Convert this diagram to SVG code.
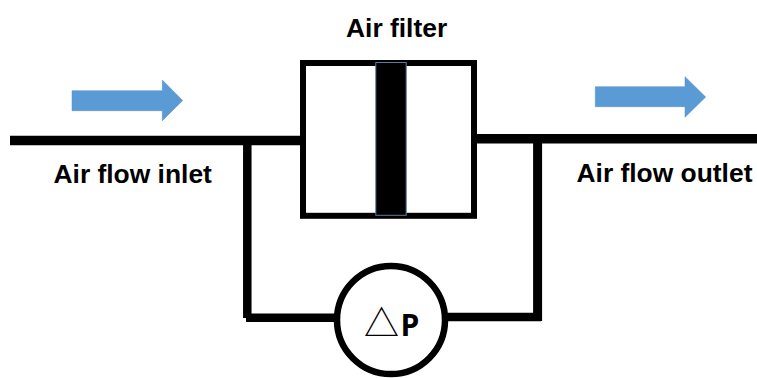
<svg xmlns="http://www.w3.org/2000/svg" width="757" height="378" viewBox="0 0 757 378">
<style>
.pipe{fill:none;stroke:#000;stroke-linecap:butt;stroke-linejoin:miter}
.lbl{font-family:"Liberation Sans",Arial,sans-serif;font-weight:700;font-size:26.4px;fill:#000}
.flow{fill:#5b9bd5;stroke:#4f8fc8;stroke-width:.5}
</style>
<rect width="757" height="378" fill="#fff"/>
<g id="connectors">
<path class="pipe" stroke-width="9.5" d="M10 140.5H300"/>
<path class="pipe" stroke-width="9.5" d="M477 138.8H757"/>
<path class="pipe" stroke-width="8.5" d="M247.3 141V318"/>
<path class="pipe" stroke-width="8.5" d="M246 317.7H336"/>
<path class="pipe" stroke-width="9" d="M537.6 139V321"/>
<path class="pipe" stroke-width="8.5" d="M446 317H541"/>
</g>
<g id="arrow-in"><path class="flow" d="M72 90.7H162.3V80L182.7 100.5L162.3 120.7V110.7H72Z"/></g>
<g id="arrow-out"><path class="flow" d="M595.3 86.7H685V76.7L705.7 97L685 117.3V106.7H595.3Z"/></g>
<g id="air-filter">
<rect x="303" y="63" width="171" height="152.8" fill="#fff" stroke="#000" stroke-width="6"/>
<rect x="375.8" y="62.5" width="30.4" height="152.8" fill="#000" stroke="#5a7d9c" stroke-width="1"/>
<text class="lbl" x="346" y="37.3">Air filter</text>
</g>
<g id="inlet-label"><text class="lbl" x="53.5" y="183">Air flow inlet</text></g>
<g id="outlet-label"><text class="lbl" x="576.5" y="181.7">Air flow outlet</text></g>
<g id="delta-p">
<circle cx="391" cy="320" r="54" fill="#fff" stroke="#000" stroke-width="6.5"/>
<text x="364" y="336.3" font-family="'Noto Sans CJK SC','DejaVu Sans',sans-serif" font-size="35" fill="#000">△</text>
<text x="400.5" y="336" font-family="'Open Sans','Liberation Sans',sans-serif" font-weight="700" font-size="30" fill="#000">P</text>
</g>
</svg>
